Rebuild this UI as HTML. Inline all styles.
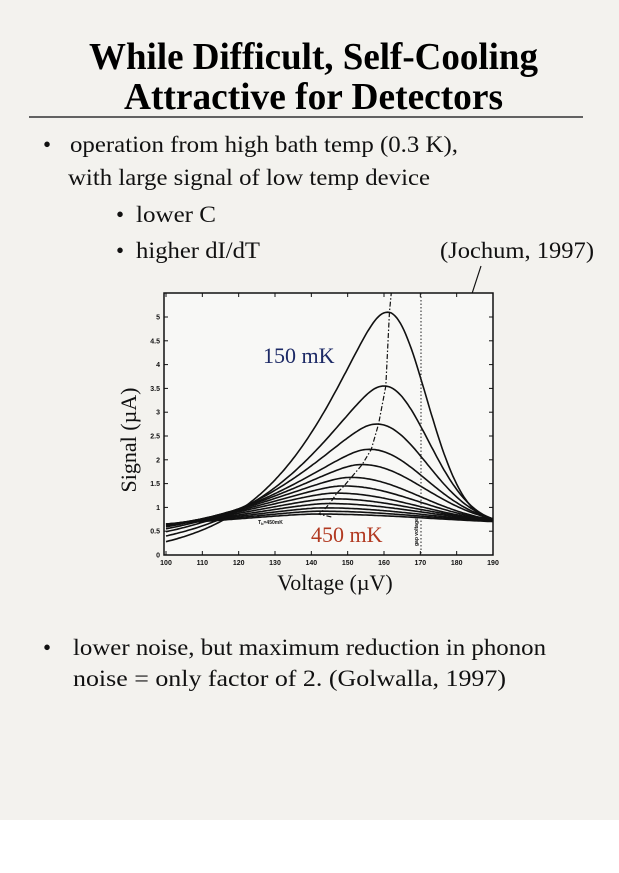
<!DOCTYPE html>
<html><head><meta charset="utf-8"><style>
html,body{margin:0;padding:0;background:#f3f2ee;}
svg{display:block}
</style></head><body>
<svg id="s" width="619" height="873" viewBox="0 0 619 873" xmlns="http://www.w3.org/2000/svg" font-family="Liberation Serif, serif">
<rect x="0" y="0" width="619" height="873" fill="#f3f2ee"/>
<rect x="0" y="820" width="619" height="53" fill="#ffffff"/>
<g font-weight="bold" font-size="38" fill="#000">
<text x="89" y="69" textLength="449" lengthAdjust="spacingAndGlyphs">While Difficult, Self-Cooling</text>
<text x="124" y="109" textLength="379" lengthAdjust="spacingAndGlyphs">Attractive for Detectors</text>
</g>
<line x1="29" y1="117" x2="583" y2="117" stroke="#333" stroke-width="1.5"/>
<g font-size="23" fill="#111">
<text x="43" y="152">•</text>
<text x="70" y="152" textLength="388" lengthAdjust="spacingAndGlyphs">operation from high bath temp (0.3 K),</text>
<text x="68" y="185" textLength="362" lengthAdjust="spacingAndGlyphs">with large signal of low temp device</text>
<text x="116" y="222">•</text>
<text x="136" y="222" textLength="80" lengthAdjust="spacingAndGlyphs">lower C</text>
<text x="116" y="258">•</text>
<text x="136" y="258" textLength="124" lengthAdjust="spacingAndGlyphs">higher dI/dT</text>
<text x="440" y="258" textLength="154" lengthAdjust="spacingAndGlyphs">(Jochum, 1997)</text>
<text x="43" y="655">•</text>
<text x="73" y="655" textLength="473" lengthAdjust="spacingAndGlyphs">lower noise, but maximum reduction in phonon</text>
<text x="73" y="686" textLength="433" lengthAdjust="spacingAndGlyphs">noise = only factor of 2.   (Golwalla, 1997)</text>
</g>
<line x1="481" y1="266" x2="466" y2="312" stroke="#111" stroke-width="1.2"/>
<rect x="164" y="293" width="329" height="262" fill="#f8f8f6" stroke="#111" stroke-width="1.5"/>
<g id="ticks" stroke="#111" stroke-width="1"></g>
<g id="curves" fill="none" stroke="#111" stroke-width="1.6"></g>
<line x1="421" y1="293" x2="421" y2="555" stroke="#222" stroke-width="1" stroke-dasharray="1.5,2"/>
<path id="dd" fill="none" stroke="#111" stroke-width="1.2" stroke-dasharray="5,2,1.5,2"/>
<g id="labels" font-family="Liberation Sans, sans-serif" font-weight="bold" font-size="7" fill="#111"></g>
<text x="263" y="363" font-size="22" fill="#1d2a66">150 mK</text>
<text x="311" y="542" font-size="22" fill="#b23a22">450 mK</text>
<text x="258" y="524" font-family="Liberation Sans, sans-serif" font-size="5" font-weight="bold" fill="#111">T<tspan font-size="4" dy="1">b</tspan><tspan dy="-1">=450mK</tspan></text>
<text transform="translate(418,546) rotate(-90)" font-family="Liberation Sans, sans-serif" font-size="5" font-weight="bold" fill="#111">gap voltage</text>
<text transform="translate(136,440) rotate(-90)" font-size="22" text-anchor="middle" fill="#111">Signal (µA)</text>
<text x="335" y="590" font-size="22" text-anchor="middle" fill="#111">Voltage (µV)</text>
</svg>
<script>
(function(){
var X=function(v){return 166+(v-100)*(327/90);};
var Y=function(s){return 555-s*47.6;};
var ns="http://www.w3.org/2000/svg";
var cg=document.getElementById('curves');
var A=[5.1,3.55,2.75,2.22,1.9,1.63,1.45,1.3,1.18,1.08,0.99,0.92,0.86];
var P=[161,160,158,156,154,151,149,147,146,145,144,143,142];
var Ls=[0.28,0.4,0.49,0.55,0.59,0.61,0.62,0.63,0.64,0.64,0.65,0.65,0.65];
var peaks=[];
function gl(dx,w){var u=Math.sqrt(dx*dx+9)-3;return Math.exp(-Math.pow(u/w,1.25));}
for(var i=0;i<13;i++){
 var t=i/12;
 var wl=24+t*40, wr=15+t*28;
 var L=Ls[i], R=0.6+0.04*t;
 var g0=gl(P[i]-100,wl);
 var d='';
 for(var v=100;v<=190.01;v+=0.5){
  var b=L+(R-L)*(v-100)/90;
  var bp=L+(R-L)*(P[i]-100)/90;
  var g;
  if(v<P[i]){g=(gl(P[i]-v,wl)-g0)/(1-g0);}
  else{g=Math.exp(-Math.pow((v-P[i])/wr,2));}
  var s=b+(A[i]-bp)*g;
  d+=(d?'L':'M')+X(v).toFixed(1)+','+Y(s).toFixed(1);
 }
 var p=document.createElementNS(ns,'path');p.setAttribute('d',d);cg.appendChild(p);
 peaks.push([P[i],A[i]]);
}
var dd='M'+X(145.5)+','+Y(0.8);
for(var k=peaks.length-1;k>=0;k--){dd+='L'+X(peaks[k][0]+ (k<4?0.5:0))+','+Y(peaks[k][1]);}
dd+='L'+X(162)+','+293;
document.getElementById('dd').setAttribute('d',dd);
var tg=document.getElementById('ticks'),lg=document.getElementById('labels');
function ln(a,b,c,e){var l=document.createElementNS(ns,'line');l.setAttribute('x1',a);l.setAttribute('y1',b);l.setAttribute('x2',c);l.setAttribute('y2',e);tg.appendChild(l);}
function tx(x,y,s,anc){var e=document.createElementNS(ns,'text');e.setAttribute('x',x);e.setAttribute('y',y);e.setAttribute('text-anchor',anc);e.textContent=s;lg.appendChild(e);}
for(var v=100;v<=190;v+=10){ln(X(v),555,X(v),551);ln(X(v),293,X(v),297);tx(X(v),565,String(v),'middle');}
for(var s=0;s<=5;s+=0.5){ln(164,Y(s),168,Y(s));ln(493,Y(s),489,Y(s));tx(160,Y(s)+2.5,String(s),'end');}
})();
</script>
</body></html>
